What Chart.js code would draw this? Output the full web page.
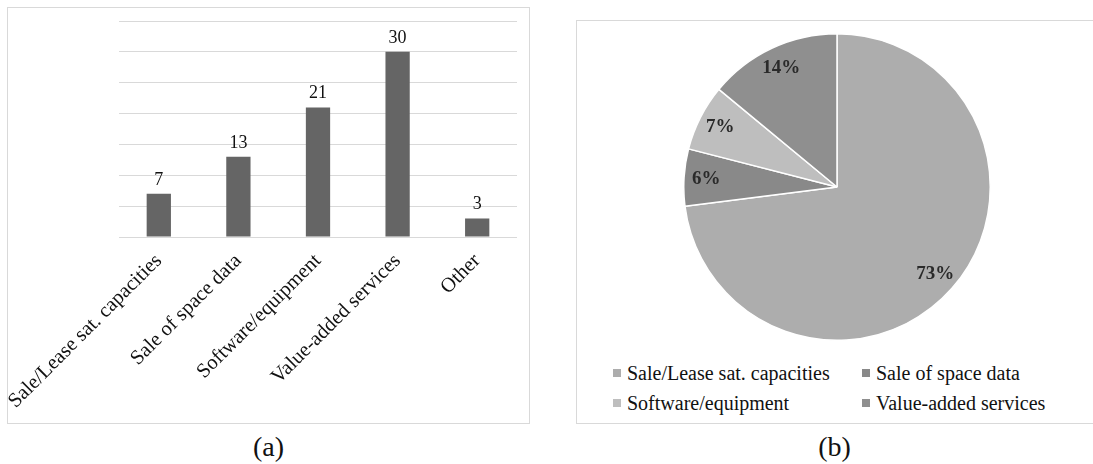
<!DOCTYPE html>
<html>
<head>
<meta charset="utf-8">
<script src="https://cdn.jsdelivr.net/npm/chart.js@4.4.1/dist/chart.umd.min.js"></script>
<style>
  body { margin: 0; width: 1093px; height: 464px; background: #fff; position: relative; overflow: hidden; font-family: "Liberation Serif", "Times New Roman", serif; }
  .panel { position: absolute; border: 1px solid #d9d9d9; box-sizing: border-box; }
  #panelA { left: 7px; top: 7px; width: 523px; height: 417px; }
  #panelB { left: 576px; top: 20px; width: 530px; height: 404px; }
  #chartBars { position: absolute; left: 8px; top: 8px; }
  #chartPie { position: absolute; left: 683px; top: 33px; }
  #pieLegend { position: absolute; left: 613px; top: 358px; display: grid; grid-template-columns: 249px auto; grid-auto-rows: 30px; }
  .item { display: flex; align-items: center; font-size: 20px; color: #111; white-space: nowrap; }
  .item span.box { width: 8px; height: 8px; margin-right: 6px; }
  .caption { position: absolute; top: 429px; font-size: 28px; line-height: 36px; text-align: center; color: #111; }
</style>
</head>
<body>
<div class="panel" id="panelA"></div>
<div class="panel" id="panelB"></div>
<canvas id="chartBars" width="521" height="415"></canvas>
<canvas id="chartPie" width="308" height="308"></canvas>
<div id="pieLegend"></div>
<div class="caption" style="left:7px;width:523px;">(a)</div>
<div class="caption" style="left:576px;width:517px;">(b)</div>

<script>
// ===== DATA =====
const barCategories = ['Sale/Lease sat. capacities', 'Sale of space data', 'Software/equipment', 'Value-added services', 'Other'];
const barValues = [7, 13, 21, 30, 3];
const barTicks = [0, 5, 10, 15, 20, 25, 30, 35];

const pieLabels = ['Sale/Lease sat. capacities', 'Sale of space data', 'Software/equipment', 'Value-added services'];
const pieValues = [73, 6, 7, 14];
const pieColors = ['#adadad', '#898989', '#bebebe', '#8f8f8f'];

const serif = '"Liberation Serif", "Times New Roman", serif';

// ===== PLUGINS =====
const barLabels = {
  id: 'barLabels',
  afterDatasetsDraw(chart) {
    const ctx = chart.ctx;
    const meta = chart.getDatasetMeta(0);
    ctx.save();
    ctx.font = '18px ' + serif;
    ctx.fillStyle = '#111';
    ctx.textAlign = 'center';
    ctx.textBaseline = 'alphabetic';
    meta.data.forEach((bar, i) => ctx.fillText(String(barValues[i]), bar.x, bar.y - 9));
    ctx.restore();
  }
};

const pieLabelsPlugin = {
  id: 'pieLabels',
  afterDatasetsDraw(chart) {
    const ctx = chart.ctx;
    const meta = chart.getDatasetMeta(0);
    ctx.save();
    ctx.font = 'bold 19px ' + serif;
    ctx.fillStyle = '#2a2a2a';
    ctx.textAlign = 'center';
    ctx.textBaseline = 'middle';
    meta.data.forEach((arc, i) => {
      const mid = (arc.startAngle + arc.endAngle) / 2;
      const r = arc.outerRadius * 0.855;
      ctx.fillText(pieValues[i] + '%', arc.x + Math.cos(mid) * r, arc.y + Math.sin(mid) * r);
    });
    ctx.restore();
  }
};

// ===== BAR CHART (a) =====
new Chart(document.getElementById('chartBars'), {
  type: 'bar',
  data: {
    labels: barCategories,
    datasets: [{ data: barValues, backgroundColor: '#656565', categoryPercentage: 1, barPercentage: 0.305 }]
  },
  options: {
    responsive: false, animation: false,
    layout: { padding: { top: 13, right: 12, left: 0, bottom: 0 } },
    plugins: { legend: { display: false }, tooltip: { enabled: false } },
    scales: {
      x: {
        grid: { display: false }, border: { display: false },
        ticks: { font: { family: serif, size: 20.5 }, color: '#111', minRotation: 45, maxRotation: 45, autoSkip: false, padding: 4 },
        afterFit: s => { s.height = 186; s.paddingLeft = 0; s.paddingRight = 0; }
      },
      y: {
        min: 0, max: 35,
        afterBuildTicks: s => { s.ticks = barTicks.map(v => ({ value: v })); },
        grid: { color: '#d9d9d9', drawTicks: false }, border: { display: false },
        ticks: { display: false },
        afterFit: s => { s.width = 111; }
      }
    }
  },
  plugins: [barLabels]
});

// ===== PIE CHART (b) =====
new Chart(document.getElementById('chartPie'), {
  type: 'pie',
  data: {
    labels: pieLabels,
    datasets: [{ data: pieValues, backgroundColor: pieColors, borderColor: '#fff', borderWidth: 1.5 }]
  },
  options: {
    responsive: false, animation: false,
    plugins: { legend: { display: false }, tooltip: { enabled: false } }
  },
  plugins: [pieLabelsPlugin]
});

// legend for pie, two columns
const legendEl = document.getElementById('pieLegend');
pieLabels.forEach((label, i) => {
  const item = document.createElement('div');
  item.className = 'item';
  item.innerHTML = '<span class="box" style="background:' + pieColors[i] + '"></span>' + label;
  legendEl.appendChild(item);
});
</script>
</body>
</html>
